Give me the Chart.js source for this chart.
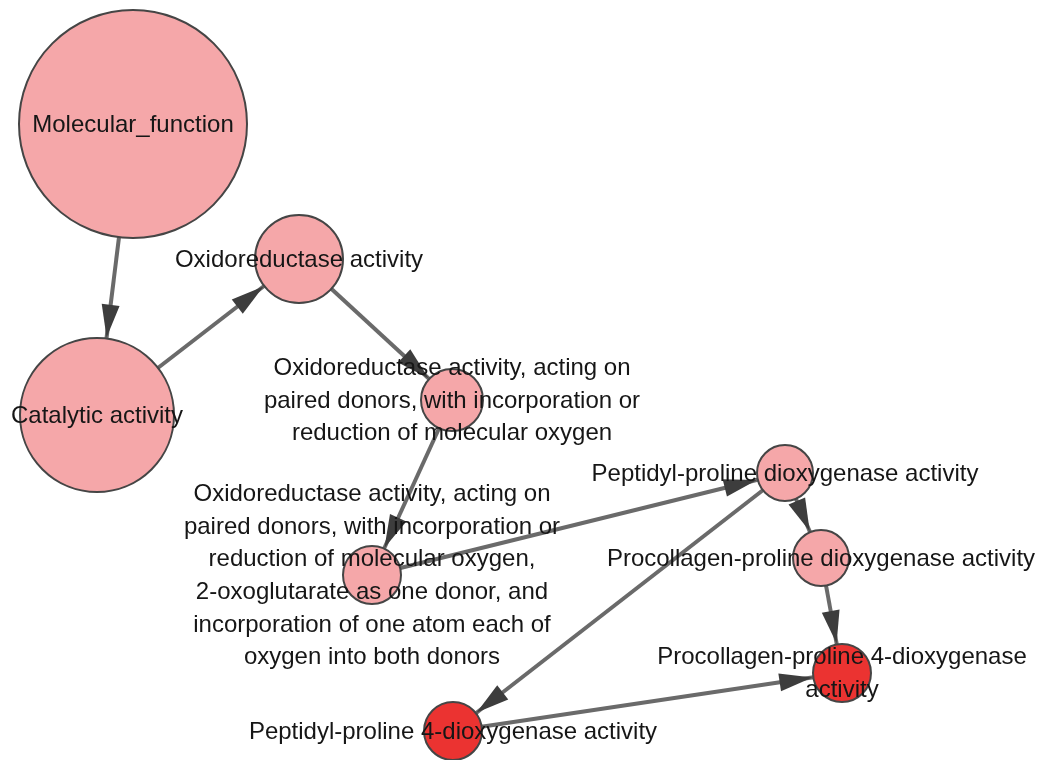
<!DOCTYPE html>
<html><head><meta charset="utf-8">
<style>html,body{margin:0;padding:0;background:#fff;overflow:hidden}#wrap{width:1039px;height:760px;position:relative}canvas{display:block}</style>
<script src="https://cdn.jsdelivr.net/npm/chart.js@4.4.1/dist/chart.umd.min.js"></script>
</head><body><div id="wrap"><canvas id="c" width="1039" height="760"></canvas></div>
<script>
const nodeLabels = [
  "Molecular_function",
  "Catalytic activity",
  "Oxidoreductase activity",
  "Oxidoreductase activity, acting on\npaired donors, with incorporation or\nreduction of molecular oxygen",
  "Oxidoreductase activity, acting on\npaired donors, with incorporation or\nreduction of molecular oxygen,\n2-oxoglutarate as one donor, and\nincorporation of one atom each of\noxygen into both donors",
  "Peptidyl-proline dioxygenase activity",
  "Procollagen-proline dioxygenase activity",
  "Procollagen-proline 4-dioxygenase\nactivity",
  "Peptidyl-proline 4-dioxygenase activity"
];
const nodeX = [133, 97, 299, 452, 372, 785, 821, 842, 453];
const nodeY = [124, 415, 259, 400, 575, 473, 558, 673, 731];
const nodeSize = [114, 77, 44, 31, 29, 28, 28, 29, 29];
const nodeSignificant = [0, 0, 0, 0, 0, 0, 0, 1, 1];
const edgeFrom = [0, 1, 2, 3, 4, 5, 5, 6, 8];
const edgeTo   = [1, 2, 3, 4, 5, 6, 8, 7, 7];

const PINK = '#f5a7a9', RED = '#eb3331';

const edgeDatasets = edgeFrom.map((f, i) => ({
  type: 'line',
  data: [{x: nodeX[f], y: nodeY[f]}, {x: nodeX[edgeTo[i]], y: nodeY[edgeTo[i]]}],
  borderColor: '#6a6a6a',
  borderWidth: 4,
  pointRadius: 0,
  pointHoverRadius: 0,
  fill: false,
  order: 3,
  clip: false
}));

const nodeDataset = {
  type: 'bubble',
  data: nodeX.map((x, i) => ({x: x, y: nodeY[i], r: nodeSize[i]})),
  backgroundColor: nodeSignificant.map(s => s ? RED : PINK),
  borderColor: '#454545',
  borderWidth: 2,
  hoverRadius: 0,
  hoverBorderWidth: 2,
  order: 1,
  clip: false
};

const arrowPlugin = {
  id: 'arrows',
  afterDatasetsDraw(chart) {
    const ctx = chart.ctx, sx = chart.scales.x, sy = chart.scales.y;
    ctx.save();
    ctx.fillStyle = '#3d3d3d';
    edgeFrom.forEach((f, i) => {
      const t = edgeTo[i];
      const x1 = sx.getPixelForValue(nodeX[f]), y1 = sy.getPixelForValue(nodeY[f]);
      const x2 = sx.getPixelForValue(nodeX[t]), y2 = sy.getPixelForValue(nodeY[t]);
      const dx = x2 - x1, dy = y2 - y1, L = Math.hypot(dx, dy);
      const ux = dx / L, uy = dy / L;
      const rr = nodeSize[t] + 1;
      const tx = x2 - ux * rr, ty = y2 - uy * rr;
      const len = 33, hw = 9;
      const bx = tx - ux * len, by = ty - uy * len;
      ctx.beginPath();
      ctx.moveTo(tx, ty);
      ctx.lineTo(bx - uy * hw, by + ux * hw);
      ctx.lineTo(bx + uy * hw, by - ux * hw);
      ctx.closePath();
      ctx.fill();
    });
    ctx.restore();
  },
  afterDraw(chart) {
    const ctx = chart.ctx, sx = chart.scales.x, sy = chart.scales.y;
    ctx.save();
    ctx.fillStyle = '#161616';
    ctx.textAlign = 'center';
    ctx.textBaseline = 'middle';
    nodeLabels.forEach((lab, i) => {
      const lines = lab.split('\n');
      ctx.font = "24px 'Liberation Sans', Arial, sans-serif";
      const lh = 32.6;
      const cx = sx.getPixelForValue(nodeX[i]), cy = sy.getPixelForValue(nodeY[i]);
      const y0 = cy - (lines.length - 1) * lh / 2;
      lines.forEach((ln, k) => ctx.fillText(ln, cx, y0 + k * lh + 1));
    });
    ctx.restore();
  }
};

new Chart(document.getElementById('c'), {
  type: 'bubble',
  data: { datasets: [nodeDataset].concat(edgeDatasets) },
  options: {
    responsive: false,
    animation: false,
    events: [],
    layout: { padding: 0, autoPadding: false },
    plugins: { legend: { display: false }, tooltip: { enabled: false } },
    scales: {
      x: { type: 'linear', min: 0, max: 1039, display: false },
      y: { type: 'linear', min: 0, max: 760, reverse: true, display: false }
    }
  },
  plugins: [arrowPlugin]
});
</script>
</body></html>
